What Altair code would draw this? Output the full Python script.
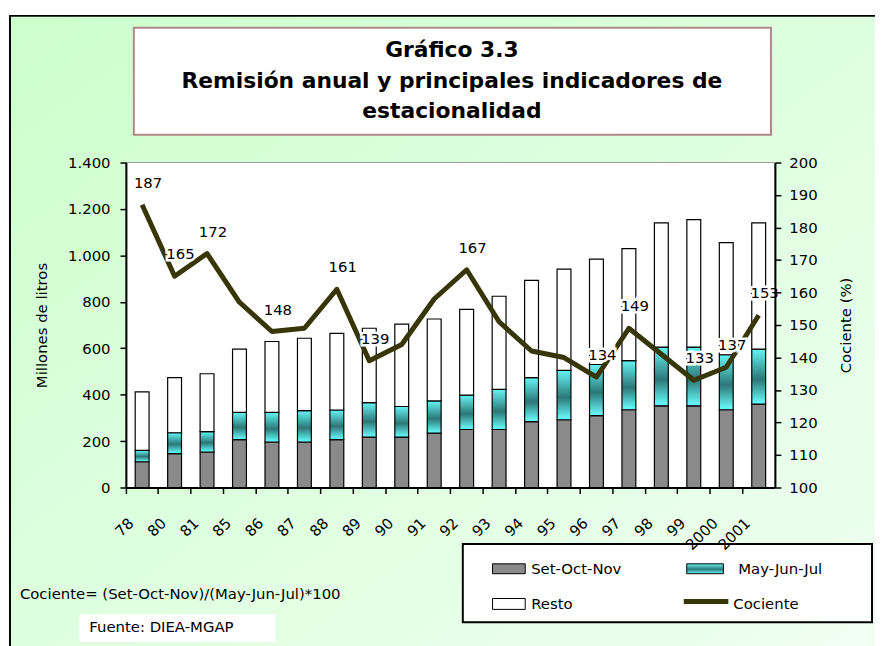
import altair as alt
import pandas as pd

# ---------------- data ----------------
years = ["78", "80", "81", "85", "86", "87", "88", "89", "90", "91",
         "92", "93", "94", "95", "96", "97", "98", "99", "2000", "2001"]
set_oct_nov = [111, 146, 153, 206, 196, 196, 206, 217, 217, 234,
               250, 250, 284, 292, 310, 335, 352, 352, 335, 359]
may_jun_jul = [49, 90, 88, 118, 128, 135, 128, 149, 132, 139,
               148, 173, 189, 213, 220, 212, 253, 253, 237, 237]
resto = [252, 237, 249, 272, 305, 312, 330, 320, 355, 353,
         369, 401, 419, 436, 454, 482, 535, 549, 483, 544]
cociente = [187, 165, 172, 157, 148, 149, 161, 139, 144, 158,
            167, 151, 142, 140, 134, 149, 141, 133, 137, 153]
cociente_labels = ["187", "165", "172", "", "148", "", "161", "139", "", "",
                   "167", "", "", "", "134", "149", "", "133", "137", "153"]
left_ticks = [0, 200, 400, 600, 800, 1000, 1200, 1400]
right_ticks = [100, 110, 120, 130, 140, 150, 160, 170, 180, 190, 200]

title_lines = ["Gráfico 3.3",
               "Remisión anual y principales indicadores de",
               "estacionalidad"]
legend_labels = ["Set-Oct-Nov", "May-Jun-Jul", "Resto", "Cociente"]
footnote = "Cociente= (Set-Oct-Nov)/(May-Jun-Jul)*100"
source = "Fuente:  DIEA-MGAP"
y_left_title = "Millones de litros"
y_right_title = "Cociente (%)"

df = pd.DataFrame({
    "year": years,
    "son": set_oct_nov,
    "mjj": may_jun_jul,
    "resto": resto,
    "cociente": cociente,
    "lab": cociente_labels,
})

# ---------------- styles ----------------
FONT = "DejaVu Sans"
W, H = 655, 328
GREY = "#8a8a8a"
LINE = "#363608"
TEAL = alt.Gradient(
    gradient="linear",
    stops=[alt.GradientStop(color="#66f4f4", offset=0),
           alt.GradientStop(color="#2c7878", offset=0.55),
           alt.GradientStop(color="#6affff", offset=1)],
    x1=0, x2=0, y1=0, y2=1)
BG = alt.Gradient(
    gradient="linear",
    stops=[alt.GradientStop(color="#ccffcc", offset=0),
           alt.GradientStop(color="#f0fff2", offset=1)],
    x1=0, x2=1, y1=0, y2=1)

x_enc = alt.X(
    "year:N", sort=years,
    scale=alt.Scale(paddingInner=0, paddingOuter=0),
    axis=alt.Axis(title=None, labelAngle=315, labelAlign="right",
                  labelBaseline="middle", labelPadding=27, labelOffset=-11,
                  bandPosition=0, tickSize=6, tickColor="black", tickWidth=1.5,
                  domainColor="black", domainWidth=2, labelFontSize=15,
                  labelColor="black", labelFont=FONT, grid=False, zindex=1),
)

left_axis = alt.Axis(
    title=y_left_title, values=left_ticks,
    labelExpr="replace(format(datum.value, ','), ',', '.')",
    tickSize=6, tickColor="black", tickWidth=1.5, domainColor="black",
    domainWidth=2, labelFontSize=15, labelColor="black", labelFont=FONT,
    labelPadding=10, grid=False, titleFont=FONT, titleFontSize=15,
    titleFontWeight="normal", titleColor="black", titleAngle=270,
    titleX=-85, titleY=164, titleBaseline="middle", titleAlign="center",
    zindex=1)

right_axis = alt.Axis(
    title=y_right_title, orient="right", values=right_ticks,
    tickSize=6, tickColor="black", tickWidth=1.5, domainColor="black",
    domainWidth=2, labelFontSize=15, labelColor="black", labelFont=FONT,
    labelPadding=8, grid=False, titleFont=FONT, titleFontSize=15,
    titleFontWeight="normal", titleColor="black", titleAngle=270,
    titleX=71, titleY=164, titleBaseline="middle", titleAlign="center",
    zindex=1)

left_scale = alt.Scale(domain=[0, 1400], nice=False)
right_scale = alt.Scale(domain=[100, 200], nice=False)

base = alt.Chart(df)

grey_bars = base.mark_bar(size=14, fill=GREY, stroke="black", strokeWidth=1.2).encode(
    x=x_enc,
    y=alt.Y("y0:Q", scale=left_scale, axis=left_axis),
    y2="son:Q",
).transform_calculate(y0="0")

teal_bars = base.mark_bar(size=14, fill=TEAL, stroke="black", strokeWidth=1.2).encode(
    x=x_enc,
    y=alt.Y("lo:Q", scale=left_scale, axis=left_axis),
    y2="hi:Q",
).transform_calculate(lo="datum.son", hi="datum.son + datum.mjj")

white_bars = base.mark_bar(size=14, fill="white", stroke="black", strokeWidth=1.2).encode(
    x=x_enc,
    y=alt.Y("lo:Q", scale=left_scale, axis=left_axis),
    y2="hi:Q",
).transform_calculate(lo="datum.son + datum.mjj",
                      hi="datum.son + datum.mjj + datum.resto")

bars = alt.layer(grey_bars, teal_bars, white_bars)

line = base.mark_line(color=LINE, strokeWidth=5, strokeJoin="round").encode(
    x=x_enc,
    y=alt.Y("cociente:Q", scale=right_scale, axis=right_axis),
)

labels_halo = base.transform_filter("datum.lab != ''").mark_text(
    font=FONT, fontSize=15, color="white", stroke="white", strokeWidth=5,
    dy=-22, dx=6).encode(
    x=x_enc, y=alt.Y("cociente:Q", scale=right_scale, axis=right_axis),
    text="lab:N")
labels = base.transform_filter("datum.lab != ''").mark_text(
    font=FONT, fontSize=15, color="black", dy=-22, dx=6).encode(
    x=x_enc, y=alt.Y("cociente:Q", scale=right_scale, axis=right_axis),
    text="lab:N")

right = alt.layer(line, labels_halo, labels)

# ---------------- decorations (pixel positions relative to plot area) ----------------
one = pd.DataFrame({"k": [0]})


def rect(x, x2, y, y2, **kw):
    return alt.Chart(one).mark_rect(**kw).encode(
        x=alt.value(x), x2=alt.value(x2), y=alt.value(y), y2=alt.value(y2))


def txt(s, x, y, **kw):
    opts = dict(font=FONT, fontSize=15, color="black", baseline="middle")
    opts.update(kw)
    return alt.Chart(one).mark_text(text=s, **opts).encode(
        x=alt.value(x), y=alt.value(y))


background = rect(-116, 770, -147, 500, fill=BG)
border_left = alt.Chart(one).mark_rule(color="black", strokeWidth=2).encode(
    x=alt.value(-117), y=alt.value(-149), y2=alt.value(500))
border_top = alt.Chart(one).mark_rule(color="black", strokeWidth=2).encode(
    x=alt.value(-118), x2=alt.value(770), y=alt.value(-148))
plot_bg = rect(0, W, 0, H, fill="white", stroke="#9a9a9a", strokeWidth=1)

title_box = rect(8, 651, -136, -28, fill="white", stroke="#b08888", strokeWidth=2)
title_texts = [txt(t, 329, yy, fontSize=22, fontWeight="bold", align="center")
               for t, yy in zip(title_lines, [-113, -82, -52])]

legend_box = rect(340, 753, 385, 464, fill="white", stroke="black", strokeWidth=2)
leg_sw1 = rect(370, 403, 405, 415, fill=GREY, stroke="black", strokeWidth=1)
leg_sw2 = rect(566, 603, 405, 415, fill=TEAL, stroke="black", strokeWidth=1)
leg_sw3 = rect(370, 403, 440, 451, fill="white", stroke="black", strokeWidth=1)
leg_sw4 = alt.Chart(one).mark_rule(color=LINE, strokeWidth=5).encode(
    x=alt.value(563), x2=alt.value(608), y=alt.value(443))
leg_t = [txt(legend_labels[0], 409, 410, align="left"),
         txt(legend_labels[1], 618, 410, align="left"),
         txt(legend_labels[2], 409, 446, align="left"),
         txt(legend_labels[3], 613, 446, align="left")]

foot = txt(footnote, -107, 436, align="left")
src_box = rect(-47, 151, 456, 484, fill="white")
src = txt(source, -37, 469, align="left")

chart = alt.layer(
    background, border_left, border_top, plot_bg,
    title_box, *title_texts,
    bars, right,
    legend_box, leg_sw1, leg_sw2, leg_sw3, leg_sw4, *leg_t,
    foot, src_box, src,
).resolve_scale(y="independent").properties(
    width=W, height=H,
    autosize=alt.AutoSizeParams(type="none"),
    padding={"left": 119, "top": 153, "right": 101, "bottom": 157},
    background="white",
).configure_view(stroke=None)

chart.save("out.html", embed_options={"renderer": "svg", "actions": False})
